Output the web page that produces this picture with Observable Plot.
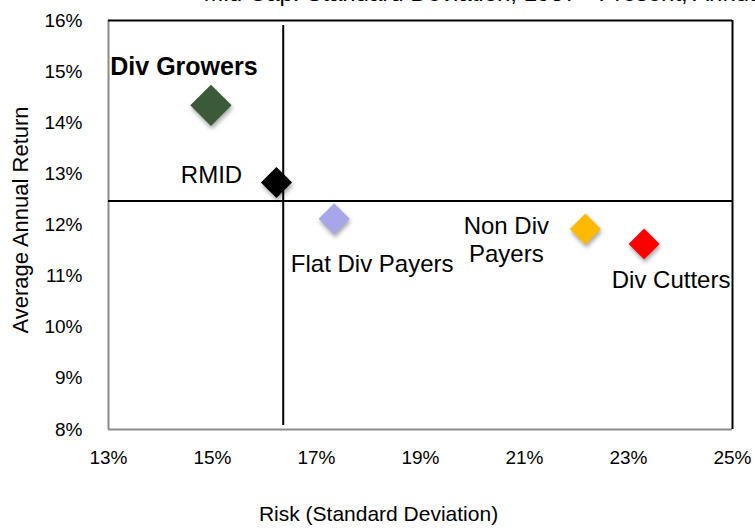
<!DOCTYPE html>
<html>
<head>
<meta charset="utf-8">
<script src="https://cdn.jsdelivr.net/npm/d3@7"></script>
<script src="https://cdn.jsdelivr.net/npm/@observablehq/plot@0.6"></script>
<style>
  body { margin: 0; background: #fff; }
  #chart svg { display: block; }
</style>
</head>
<body>
<div id="chart"></div>
<script>
// ---- data ----
const names  = ["Div Growers", "RMID", "Flat Div Payers", "Non Div Payers", "Div Cutters"];
const labels = ["Div Growers", "RMID", "Flat Div Payers", "Non Div\nPayers", "Div Cutters"];
const risk   = [14.97, 16.23, 17.34, 22.17, 23.30];   // standard deviation, %
const ret    = [14.34, 12.83, 12.12, 11.92, 11.63];   // average annual return, %
const xTicks = [13, 15, 17, 19, 21, 23, 25];
const yTicks = [8, 9, 10, 11, 12, 13, 14, 15, 16];
const refRisk = 16.36;     // vertical reference line
const refReturn = 12.47;   // horizontal reference line
const titleText = "Mid Cap: Standard Deviation, 1987 - Present, Annual";
const xTitle = "Risk (Standard Deviation)";
const yTitle = "Average Annual Return";

// ---- styles ----
const colors = {
  "Div Growers": "#3b5a3a",
  "RMID": "#000000",
  "Flat Div Payers": "#a6a6e8",
  "Non Div Payers": "#ffb900",
  "Div Cutters": "#ff0000"
};

const data = names.map((name, i) => ({name, label: labels[i], risk: risk[i], ret: ret[i]}));
const pct = d => d + "%";
const isBig = d => d.name === "Div Growers";

function label(name, opts) {
  return Plot.text(data, {filter: d => d.name === name, x: "risk", y: "ret", text: "label",
    fontSize: 24, lineHeight: 1.17, fill: "#000", ...opts});
}

const chart = Plot.plot({
  width: 755,
  height: 530,
  marginLeft: 108,
  marginRight: 23,
  marginTop: 20,
  marginBottom: 101,
  style: {fontFamily: "'Liberation Sans', Arial, sans-serif", fontSize: "19px", background: "#fff", color: "#000"},
  x: {domain: [xTicks[0], xTicks[xTicks.length - 1]], ticks: xTicks, tickFormat: pct, tickSize: 0, tickPadding: 21, label: null},
  y: {domain: [yTicks[0], yTicks[yTicks.length - 1]], ticks: yTicks, tickFormat: pct, tickSize: 0, tickPadding: 26, label: null},
  color: {type: "identity"},
  marks: [
    Plot.ruleX([xTicks[0]], {stroke: "#8c8c8c", strokeWidth: 2}),
    Plot.ruleY([yTicks[0]], {stroke: "#8c8c8c", strokeWidth: 2}),
    Plot.ruleX([xTicks[xTicks.length - 1]], {stroke: "#000", strokeWidth: 2}),
    Plot.ruleY([yTicks[yTicks.length - 1]], {stroke: "#000", strokeWidth: 2}),
    Plot.ruleX([refRisk], {stroke: "#000", strokeWidth: 2, insetTop: 5, insetBottom: 4}),
    Plot.ruleY([refReturn], {stroke: "#000", strokeWidth: 2}),
    Plot.dot(data, {filter: isBig, x: "risk", y: "ret", symbol: "diamond2", r: 18.6, fill: d => colors[d.name]}),
    Plot.dot(data, {filter: d => !isBig(d), x: "risk", y: "ret", symbol: "diamond2", r: 14, fill: d => colors[d.name]}),
    label("Div Growers", {dx: -27, dy: -40, fontSize: 25, fontWeight: "bold"}),
    label("RMID", {dx: -65, dy: -9}),
    label("Flat Div Payers", {dx: 38, dy: 44}),
    label("Non Div Payers", {dx: -79, dy: 10}),
    label("Div Cutters", {dx: 27, dy: 35}),
    Plot.text([titleText], {frameAnchor: "top-left", dx: 95, dy: -20, lineAnchor: "bottom", textAnchor: "start", fontSize: 24, text: d => d}),
    Plot.text([xTitle], {frameAnchor: "bottom-left", dx: 270, dy: 91, textAnchor: "middle", fontSize: 21, text: d => d}),
    Plot.text([yTitle], {frameAnchor: "left", dx: -88, dy: -5, rotate: -90, textAnchor: "middle", fontSize: 22, text: d => d})
  ]
});

d3.select(chart).selectAll('g[aria-label="dot"] path')
  .style("filter", "drop-shadow(1px 3px 2px rgba(0,0,0,0.35))");

document.getElementById("chart").appendChild(chart);
</script>
</body>
</html>
